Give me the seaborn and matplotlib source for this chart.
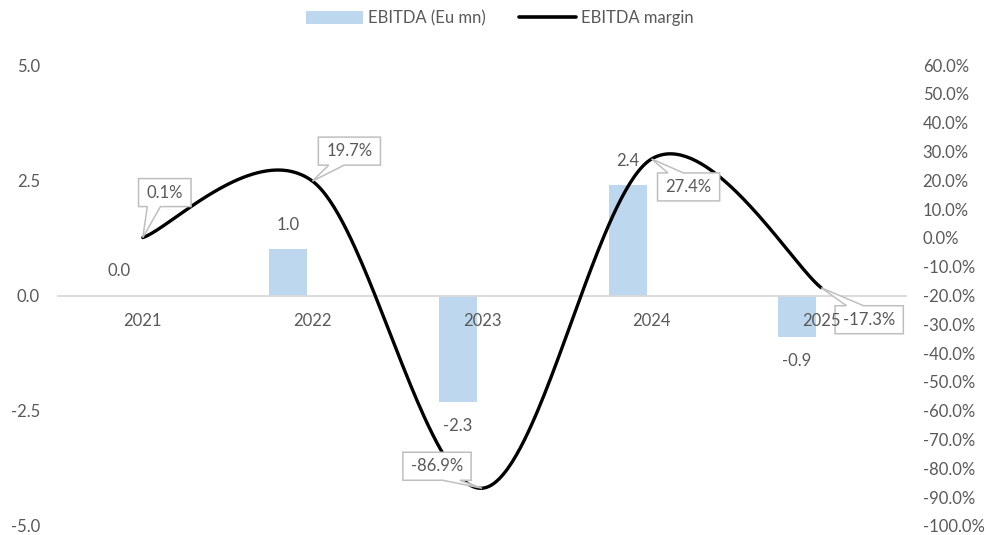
import numpy as np
import pandas as pd
import matplotlib
matplotlib.use("Agg")
import matplotlib.pyplot as plt
import seaborn as sns
from matplotlib.path import Path
from matplotlib.patches import PathPatch, Patch
from matplotlib.lines import Line2D
from matplotlib.transforms import IdentityTransform

# ---- data ----
years = ["2021", "2022", "2023", "2024", "2025"]
ebitda = [0.0, 1.0, -2.3, 2.4, -0.9]            # Eu mn
margin = [0.1, 19.7, -86.9, 27.4, -17.3]        # %
left_ticks = [-5.0, -2.5, 0.0, 2.5, 5.0]
right_ticks = list(range(-100, 61, 10))
series_names = ["EBITDA (Eu mn)", "EBITDA margin"]

# ---- style ----
BAR_COLOR = "#BDD7EE"
TEXT = "#595959"
AXIS = "#D9D9D9"
BOX_EDGE = "#BFBFBF"
FS = 12

sns.set_theme(style="white")
plt.rcParams["font.family"] = ["Lato", "DejaVu Sans"]

W, H, DPI = 986, 535, 100
fig = plt.figure(figsize=(W / DPI, H / DPI), dpi=DPI)
ax = fig.add_axes([58 / W, 1 - 526 / H, 848 / W, 461 / H])
ax2 = ax.twinx()

idx = np.arange(len(years))
bar_offset = -0.142
bar_width = 0.224

# ---- bars (left axis) ----
bars = pd.DataFrame({"pos": idx + bar_offset, "value": ebitda})
sns.barplot(data=bars, x="pos", y="value", native_scale=True, width=bar_width,
            color=BAR_COLOR, saturation=1, linewidth=0, ax=ax, zorder=2)
ax.set_xlim(-0.5, len(years) - 0.5)
ax.set_ylim(left_ticks[0], left_ticks[-1])
ax.set_yticks(left_ticks)
ax.set_yticklabels([f"{v:.1f}" for v in left_ticks])
ax.set_xticks([])
ax.set_xlabel("")
ax.set_ylabel("")
for s in ["top", "left", "right"]:
    ax.spines[s].set_visible(False)
ax.spines["bottom"].set_position(("data", 0))
ax.spines["bottom"].set_color(AXIS)
ax.spines["bottom"].set_linewidth(1.3)
ax.tick_params(axis="y", length=0, pad=13, labelsize=FS, labelcolor=TEXT)


# ---- smoothed margin line (right axis) ----
def smooth_curve(xs, ys, n=80):
    P = np.column_stack([xs, ys]).astype(float)
    m = len(P)
    parts = []
    t = np.linspace(0, 1, n)[:, None]
    for i in range(m - 1):
        p0 = P[max(i - 1, 0)]
        p1 = P[i]
        p2 = P[i + 1]
        p3 = P[min(i + 2, m - 1)]
        c1 = p1 + (p2 - p0) / 6
        c2 = p2 - (p3 - p1) / 6
        seg = (1 - t) ** 3 * p1 + 3 * (1 - t) ** 2 * t * c1 + 3 * (1 - t) * t ** 2 * c2 + t ** 3 * p2
        parts.append(seg if i == 0 else seg[1:])
    return np.vstack(parts)


curve = smooth_curve(idx, margin)
sns.lineplot(x=curve[:, 0], y=curve[:, 1], sort=False, estimator=None,
             color="black", linewidth=2.4, ax=ax2, zorder=3)
ax2.lines[-1].set_solid_capstyle("round")
ax2.set_ylim(right_ticks[0], right_ticks[-1])
ax2.set_yticks(right_ticks)
ax2.set_yticklabels([f"{v:.1f}%" for v in right_ticks])
ax2.set_ylabel("")
for s in ax2.spines.values():
    s.set_visible(False)
ax2.tick_params(axis="y", length=0, pad=12, labelsize=FS, labelcolor=TEXT)
ax2.set_xlim(-0.5, len(years) - 0.5)

# category labels under the zero line
mixed = (ax2.transData, ax.transData)
for i, yr in enumerate(years):
    ax2.annotate(yr, xy=(i, 0), xycoords=mixed, xytext=(0, -26),
                 textcoords="offset pixels", ha="center", va="center",
                 fontsize=FS, color=TEXT, zorder=6)

# bar value labels
for i, v in enumerate(ebitda):
    off = 24 if v >= 0 else -24
    ax2.annotate(f"{v:.1f}", xy=(i + bar_offset, v), xycoords=mixed,
                 xytext=(0, off), textcoords="offset pixels",
                 ha="center", va="center", fontsize=FS, color=TEXT, zorder=6)

# margin callouts
callout_offsets = [(22, 45), (37, 30), (-45, 22), (37, -28), (48, -32)]
texts = []
for i, (v, (dx, dy)) in enumerate(zip(margin, callout_offsets)):
    t = ax2.annotate(f"{v:.1f}%", xy=(i, v), xycoords="data", xytext=(dx, dy),
                     textcoords="offset pixels", ha="center", va="center",
                     fontsize=FS, color=TEXT, zorder=6)
    texts.append(t)

fig.canvas.draw()
renderer = fig.canvas.get_renderer()


def callout_path(x0, y0, x1, y1, px, py):
    w, h = x1 - x0, y1 - y0
    cx, cy = (x0 + x1) / 2, (y0 + y1) / 2
    ddx, ddy = px - cx, py - cy
    dq = ddx * h / w
    verts = []
    if abs(ddy) > abs(dq):
        if ddx > 0:
            ba, bb = x0 + 7 * w / 12, x0 + 10 * w / 12
        else:
            ba, bb = x0 + 2 * w / 12, x0 + 5 * w / 12
        if ddy > 0:  # top side
            verts = [(x0, y1), (ba, y1), (px, py), (bb, y1), (x1, y1), (x1, y0), (x0, y0)]
        else:        # bottom side
            verts = [(x0, y1), (x1, y1), (x1, y0), (bb, y0), (px, py), (ba, y0), (x0, y0)]
    else:
        if ddy > 0:
            bhi, blo = y1 - 2 * h / 12, y1 - 5 * h / 12
        else:
            bhi, blo = y1 - 7 * h / 12, y1 - 10 * h / 12
        if ddx > 0:  # right side
            verts = [(x0, y1), (x1, y1), (x1, bhi), (px, py), (x1, blo), (x1, y0), (x0, y0)]
        else:        # left side
            verts = [(x0, y1), (x1, y1), (x1, y0), (x0, y0), (x0, blo), (px, py), (x0, bhi)]
    verts.append(verts[0])
    codes = [Path.MOVETO] + [Path.LINETO] * (len(verts) - 2) + [Path.CLOSEPOLY]
    return Path(verts, codes)


for i, (v, t) in enumerate(zip(margin, texts)):
    bb = t.get_window_extent(renderer)
    px, py = ax2.transData.transform((i, v))
    padx, pady = 8, 7
    path = callout_path(bb.x0 - padx, bb.y0 - pady + 1, bb.x1 + padx, bb.y1 + pady - 1, px, py)
    patch = PathPatch(path, transform=IdentityTransform(), facecolor="white",
                      edgecolor=BOX_EDGE, linewidth=1.1, zorder=5, clip_on=False)
    ax2.add_artist(patch)

# legend
handles = [Patch(facecolor=BAR_COLOR, edgecolor="none"),
           Line2D([], [], color="black", linewidth=2.6)]
leg = fig.legend(handles, series_names, loc="center", bbox_to_anchor=(500 / W, 1 - 18 / H),
                 ncol=2, frameon=False, fontsize=FS, handlelength=3.4, handleheight=0.85,
                 handletextpad=0.3, columnspacing=2.0)
for txt in leg.get_texts():
    txt.set_color(TEXT)

fig.savefig("out.png", dpi=DPI)
